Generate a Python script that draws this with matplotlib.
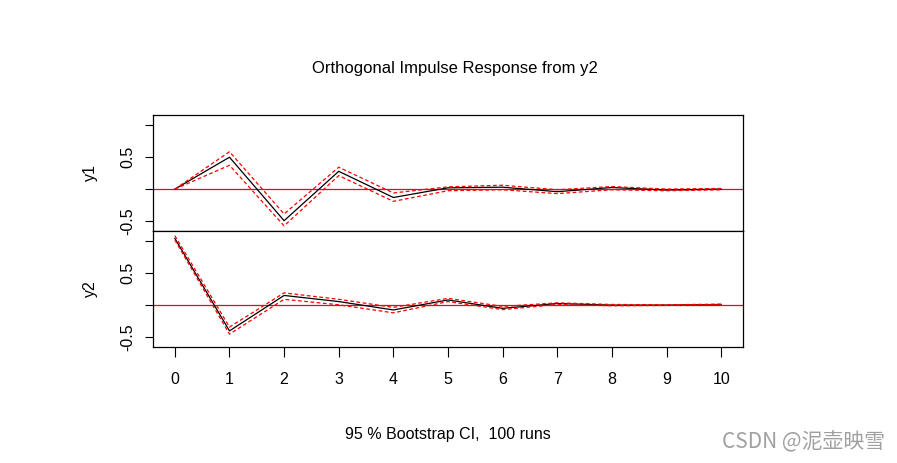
import matplotlib.pyplot as plt

plt.rcParams['font.family'] = ['Liberation Sans', 'DejaVu Sans']

steps = list(range(11))
y1_irf = [0.0, 0.495, -0.49, 0.276, -0.13, 0.02, 0.03, -0.04, 0.025, -0.015, 0.0]
y1_upper = [0.0, 0.58, -0.385, 0.34, -0.06, 0.035, 0.06, -0.01, 0.04, 0.0, 0.01]
y1_lower = [0.0, 0.37, -0.57, 0.21, -0.19, -0.025, -0.01, -0.07, -0.01, -0.025, -0.01]
y2_irf = [1.035, -0.40, 0.15, 0.055, -0.075, 0.08, -0.05, 0.025, 0.0, 0.0, 0.01]
y2_upper = [1.077, -0.34, 0.19, 0.09, -0.035, 0.105, -0.02, 0.035, 0.01, 0.005, 0.015]
y2_lower = [1.01, -0.45, 0.09, 0.005, -0.12, 0.055, -0.07, 0.01, -0.01, -0.005, 0.005]

panels = [("y1", y1_irf, y1_upper, y1_lower), ("y2", y2_irf, y2_upper, y2_lower)]
yticks = [-0.5, 0.0, 0.5, 1.0]
ylabels = ["-0.5", "", "0.5", ""]

fig = plt.figure(figsize=(8.97, 4.63), dpi=100)
W, H = 897, 463
left, right = 153, 743
tops = [115, 231]
ph = 116
fs = 11.5

axes = []
for i, (name, irf, up, lo) in enumerate(panels):
    top = tops[i]
    ax = fig.add_axes([left/W, 1-(top+ph)/H, (right-left)/W, ph/H])
    ax.axhline(0, color='red', lw=0.9)
    ax.plot(steps, irf, color='black', lw=0.9)
    ax.plot(steps, up, color='red', lw=0.9, ls=(0, (3, 2)))
    ax.plot(steps, lo, color='red', lw=0.9, ls=(0, (3, 2)))
    ax.set_xlim(-0.4, 10.4)
    ax.set_ylim(-0.65, 1.15)
    ax.set_yticks(yticks)
    ax.set_yticklabels(ylabels, rotation=90, va='center', fontsize=fs)
    ax.tick_params(axis='y', direction='out', length=6, width=0.8, pad=7)
    ax.set_ylabel(name, fontsize=fs, labelpad=16)
    for s in ax.spines.values():
        s.set_linewidth(0.9)
    axes.append(ax)

axes[0].tick_params(axis='x', bottom=False, labelbottom=False)
axes[1].set_xticks(steps)
axes[1].tick_params(axis='x', direction='out', length=7, width=0.8, pad=11, labelsize=fs)

fig.text(455/W, 1-68/H, "Orthogonal Impulse Response from y2", ha='center', va='center', fontsize=12)
fig.text(448/W, 1-435/H, "95 % Bootstrap CI,  100 runs", ha='center', va='center', fontsize=fs)
fig.text(885/W, 1-442/H, "CSDN @泥壶映雪", ha='right', va='center', fontsize=15, color='#a0a0a0',
         family=['Noto Sans CJK SC', 'DejaVu Sans'])

fig.savefig("out.png", dpi=100)
